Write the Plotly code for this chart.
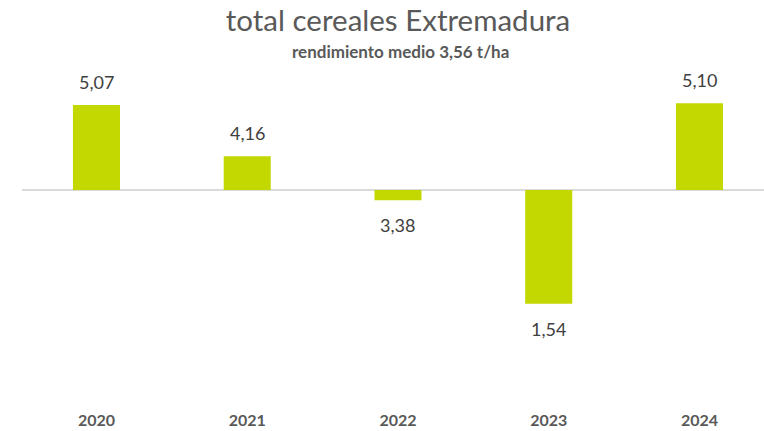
import plotly.graph_objects as go

# Rendimiento de cereales (t/ha) por campaña y media de referencia
years = ["2020", "2021", "2022", "2023", "2024"]
yields = [5.07, 4.16, 3.38, 1.54, 5.10]
mean_yield = 3.56

title_text = "total cereales Extremadura"
subtitle_text = "rendimiento medio 3,56 t/ha"

# Bars are drawn as deviation from the mean; labels show the actual yield
deviation = [round(v - mean_yield, 2) for v in yields]
labels = [f"{v:.2f}".replace(".", ",") for v in yields]

BAR = "#C2D800"
TXT = "#404040"
GREY = "#595959"
FONT = "Lato"

fig = go.Figure(
    go.Bar(
        x=years,
        y=deviation,
        marker=dict(color=BAR, line=dict(width=0)),
        width=0.312,
        hoverinfo="skip",
    )
)

# value labels above positive bars and below negative ones (category index on x)
for i, (d, lab) in enumerate(zip(deviation, labels)):
    fig.add_annotation(
        x=i, y=d, text=lab, showarrow=False, yanchor="middle",
        yshift=23 if d >= 0 else -25,
        font=dict(family=FONT, size=18, color=TXT),
    )

fig.add_annotation(
    xref="paper", yref="paper", x=0.51, y=0.873, yanchor="middle",
    text=f"<b>{subtitle_text}</b>",
    showarrow=False, font=dict(family=FONT, size=17, color=GREY),
)

fig.update_layout(
    width=764, height=431,
    margin=dict(l=22, r=0, t=0, b=22),
    paper_bgcolor="white", plot_bgcolor="white",
    showlegend=False,
    title=dict(
        text=title_text, x=0.521, xanchor="center", y=0.953, yanchor="middle",
        yref="container", font=dict(family=FONT, size=29.5, color=GREY),
    ),
    xaxis=dict(
        type="category",
        range=[-0.494, 4.428], showgrid=False, showline=False, ticks="",
        tickfont=dict(family=FONT, size=16, color=GREY, weight="bold"),
    ),
    yaxis=dict(
        range=[-3.89, 3.375], showgrid=False, showticklabels=False,
        zeroline=True, zerolinecolor="#D9D9D9", zerolinewidth=2,
    ),
)

fig.write_html("out.html")
